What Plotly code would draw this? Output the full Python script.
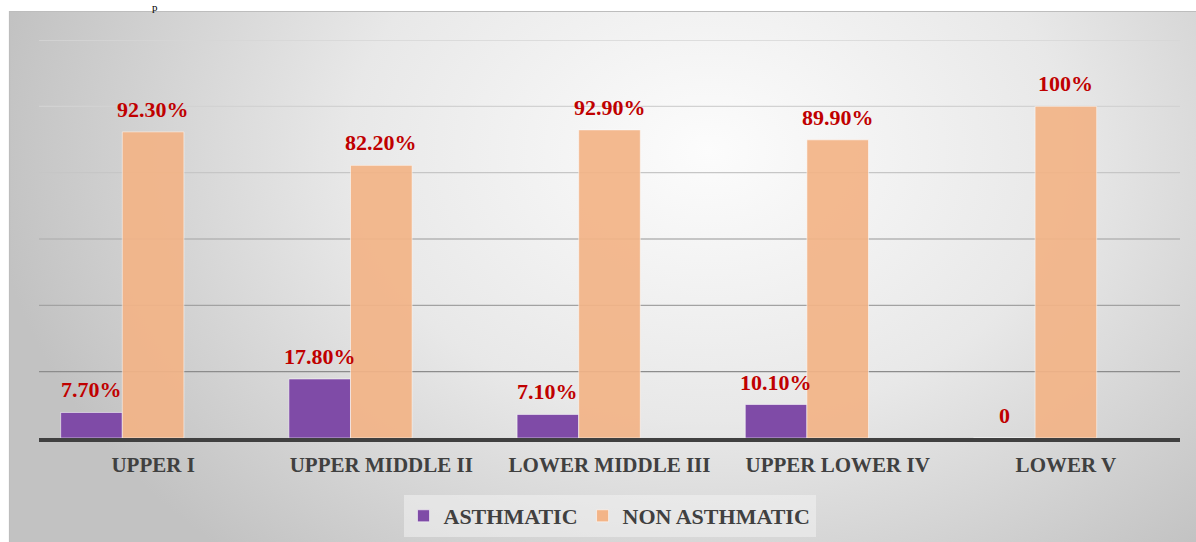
import base64
import plotly.graph_objects as go

categories = ["UPPER I", "UPPER MIDDLE II", "LOWER MIDDLE III", "UPPER LOWER IV", "LOWER V"]
asthmatic = [7.7, 17.8, 7.1, 10.1, 0]
non_asthmatic = [92.3, 82.2, 92.9, 89.9, 100]
asthmatic_labels = ["7.70%", "17.80%", "7.10%", "10.10%", "0"]
non_asthmatic_labels = ["92.30%", "82.20%", "92.90%", "89.90%", "100%"]
grid_values = [20, 40, 60, 80, 100, 120]
grid_colors = ["#8c8c8c", "#a2a2a2", "#b4b4b4", "#c6c6c6", "#d2d2d2", "#d6d6d6"]

PURPLE = "#7f4ba7"
ORANGE = "#f3b487"
RED = "#c00000"
DARK = "#404040"
FONT = "Liberation Serif"

W, H = 1196, 542
L, R, T, B = 39, 16, 40, 104
pw, ph = W - L - R, H - T - B

BAR_W = 0.27            # width of each bar, in category units (3 slots per group)
OFF_A = -0.405          # left edge of asthmatic bar relative to category centre
OFF_N = OFF_A + BAR_W   # left edge of non-asthmatic bar
cat_px = pw / len(categories)


def px_x(x):
    return (x - L) / pw


def px_y(y):
    return (H - B - y) / ph


svg = (
    '<svg xmlns="http://www.w3.org/2000/svg" width="1187" height="531" '
    'viewBox="0 0 1187 531" preserveAspectRatio="none">'
    '<defs><radialGradient id="g" gradientUnits="userSpaceOnUse" cx="0" cy="0" r="1" '
    'gradientTransform="translate(700 140) scale(720 540)">'
    '<stop offset="0" stop-color="#fcfcfc"/>'
    '<stop offset="0.5" stop-color="#e8e8e8"/>'
    '<stop offset="1" stop-color="#c2c2c2"/>'
    '</radialGradient></defs>'
    '<rect x="0" y="0" width="1187" height="531" fill="url(#g)"/>'
    '</svg>'
)
src = "data:image/svg+xml;base64," + base64.b64encode(svg.encode()).decode()

fig = go.Figure()
fig.add_trace(go.Bar(
    x=categories, y=asthmatic, name="ASTHMATIC", width=BAR_W, offset=OFF_A,
    marker=dict(color=PURPLE, line=dict(color="rgba(255,255,255,0.55)", width=1)),
))
fig.add_trace(go.Bar(
    x=categories, y=non_asthmatic, name="NON ASTHMATIC", width=BAR_W, offset=OFF_N,
    marker=dict(color=ORANGE, opacity=0.92, line=dict(color="rgba(255,255,255,0.55)", width=1)),
))

annotations = []
for i, c in enumerate(categories):
    for vals, labs, off in ((asthmatic, asthmatic_labels, OFF_A), (non_asthmatic, non_asthmatic_labels, OFF_N)):
        annotations.append(dict(
            x=c, y=vals[i], xref="x", yref="y", text=labs[i], showarrow=False,
            xshift=(off + BAR_W / 2) * cat_px, yshift=8, yanchor="bottom",
            font=dict(family=FONT, size=22, color=RED, weight="bold"),
        ))

annotations.append(dict(
    x=px_x(155), y=px_y(0), xref="paper", yref="paper", text="p", showarrow=False,
    yanchor="top", xanchor="center", borderpad=0,
    font=dict(family=FONT, size=11, color="#000000"),
))

shapes = [dict(
    type="rect", xref="paper", yref="paper", x0=px_x(9.5), x1=px_x(1200), y0=px_y(545), y1=px_y(11.5),
    line=dict(color="#bdbdbd", width=1.2), fillcolor="rgba(0,0,0,0)", layer="below",
)]
for gv, gc in zip(grid_values, grid_colors):
    shapes.append(dict(
        type="line", xref="paper", yref="y", x0=0, x1=1, y0=gv, y1=gv,
        line=dict(color=gc, width=1.4), layer="below",
    ))

fig.update_layout(
    width=W, height=H,
    margin=dict(l=L, r=R, t=T, b=B, autoexpand=False),
    paper_bgcolor="white", plot_bgcolor="rgba(0,0,0,0)",
    barmode="group",
    images=[dict(
        source=src, xref="paper", yref="paper", x=px_x(9), y=px_y(11),
        sizex=px_x(1196) - px_x(9), sizey=px_y(11) - px_y(542),
        sizing="stretch", xanchor="left", yanchor="top", layer="below",
    )],
    shapes=shapes,
    annotations=annotations,
    showlegend=True,
    legend=dict(
        orientation="h", x=0.5, xanchor="center", y=px_y(495), yanchor="top",
        bgcolor="rgba(242,242,242,0.55)", borderwidth=0,
        font=dict(family=FONT, size=22, color=DARK, weight="bold"),
        itemwidth=30,
    ),
    xaxis=dict(
        showgrid=False, showline=True, linecolor=DARK, linewidth=3.5,
        ticks="", tickfont=dict(family=FONT, size=21, color=DARK, weight="bold"),
        ticklabelstandoff=5, fixedrange=True,
    ),
    yaxis=dict(
        range=[0, 120], showgrid=False, showticklabels=False, zeroline=False,
        showline=False, fixedrange=True,
    ),
)

fig.write_html("out.html", config={"displayModeBar": False})
